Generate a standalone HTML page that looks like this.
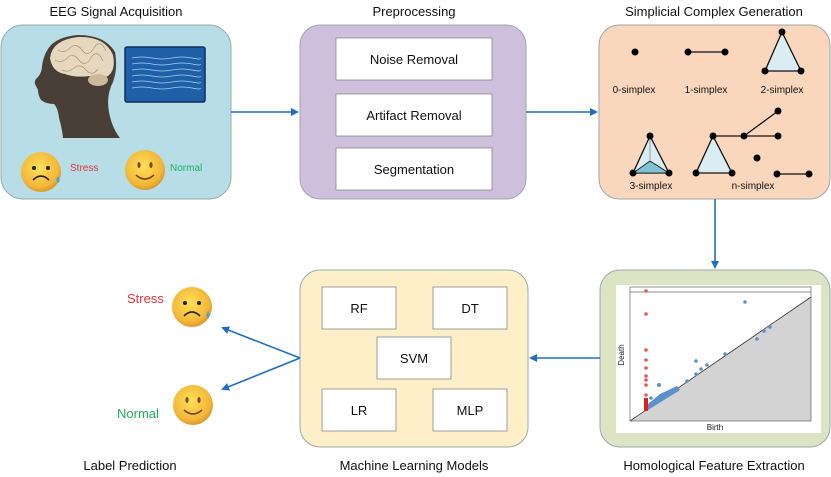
<!DOCTYPE html>
<html><head><meta charset="utf-8"><style>
html,body{margin:0;padding:0;background:#fff;}
svg{display:block;}
text{font-family:"Liberation Sans",sans-serif;}
</style></head><body>
<svg width="831" height="477" viewBox="0 0 831 477" xmlns="http://www.w3.org/2000/svg">
<defs>
<marker id="ah" markerWidth="8" markerHeight="8" refX="6" refY="4" orient="auto" markerUnits="userSpaceOnUse">
<path d="M0,0 L8,4 L0,8 z" fill="#1f6fbf"/></marker>
<radialGradient id="emo" cx="45%" cy="40%" r="60%"><stop offset="0" stop-color="#fde05a"/><stop offset="0.8" stop-color="#f3b638"/><stop offset="1" stop-color="#d99a2a"/></radialGradient>
</defs>
<g font-size="13" fill="#111" text-anchor="middle">
<text x="116" y="16">EEG Signal Acquisition</text>
<text x="414" y="16">Preprocessing</text>
<text x="714" y="16">Simplicial Complex Generation</text>
<text x="130" y="470">Label Prediction</text>
<text x="414" y="470">Machine Learning Models</text>
<text x="714" y="470">Homological Feature Extraction</text>
</g>
<!-- Box 1 -->
<rect x="1" y="25" width="230" height="174" rx="22" fill="#b7dde7" stroke="#9aa" stroke-width="1"/>
<path d="M78,35 Q105,35 115,52 Q118,68 113,82 Q106,95 109,112 Q112,128 120,138 L63,138 Q62,128 59,118 Q58,108 54,104 Q46,104 41,100 Q38,95 38,90 L35,84 Q34,80 38,77 Q42,72 42,66 Q44,52 52,44 Q62,36 78,35 z" fill="#4a3f36"/>
<path d="M50,58 Q52,40 78,37 Q105,36 113,55 Q116,70 108,76 Q100,80 90,76 Q75,78 65,74 Q52,72 50,58 z" fill="#e6d8bf"/>
<ellipse cx="98" cy="80" rx="10" ry="6" fill="#cbb99a"/>
<g stroke="#a89478" stroke-width="0.7" fill="none">
<path d="M58,50 q6,4 12,-2 t12,2 t12,-2 t12,3"/><path d="M55,60 q6,4 12,-2 t12,2 t12,-2 t12,3"/><path d="M62,70 q6,3 12,-2 t12,2 t12,-1"/>
</g>
<rect x="125" y="47" width="80" height="55" rx="2" fill="#1f5fa8" stroke="#0d2e5a" stroke-width="1.5"/>
<g stroke="#a7d0f0" stroke-width="0.8" fill="none">
<path d="M132,58 q10,-2 20,0 t20,0 t20,0 t8,0"/><path d="M132,64 q10,-2 20,0 t20,0 t20,0 t8,0"/>
<path d="M132,70 q10,-2 20,0 t20,0 t20,0 t8,0"/><path d="M132,76 q10,-2 20,0 t20,0 t20,0 t8,0"/>
<path d="M132,82 q10,-2 20,0 t20,0 t20,0 t8,0"/><path d="M132,88 q10,-2 20,0 t20,0 t20,0 t8,0"/>
</g>
<circle cx="41" cy="172" r="20" fill="url(#emo)"/>
<circle cx="34" cy="168" r="2" fill="#222"/><circle cx="48" cy="168" r="2" fill="#222"/>
<path d="M33,180 Q41,172 49,180" stroke="#222" stroke-width="1.6" fill="none"/>
<path d="M58,176 q-3,5 0,7 q3,-2 0,-7z" fill="#3aa7e0"/>
<text x="70" y="171" font-size="10" fill="#e8323c">Stress</text>
<circle cx="145" cy="170" r="20" fill="url(#emo)"/>
<ellipse cx="139" cy="165" rx="1.6" ry="3" fill="#7a4a1c"/><ellipse cx="151" cy="165" rx="1.6" ry="3" fill="#7a4a1c"/>
<path d="M136,175 Q145,183 154,175" stroke="#7a4a1c" stroke-width="1.6" fill="none"/>
<text x="170" y="171" font-size="10" fill="#1fb25a">Normal</text>
<!-- Box 2 -->
<rect x="300" y="25" width="226" height="174" rx="20" fill="#cec0dd" stroke="#9aa" stroke-width="1"/>
<g fill="#fff" stroke="#888" stroke-width="0.8">
<rect x="336" y="38" width="156" height="42"/><rect x="336" y="94" width="156" height="42"/><rect x="336" y="148" width="156" height="42"/>
</g>
<g font-size="13" fill="#111" text-anchor="middle">
<text x="414" y="64">Noise Removal</text><text x="414" y="120">Artifact Removal</text><text x="414" y="174">Segmentation</text>
</g>
<!-- Box 3 -->
<rect x="599" y="25" width="231" height="174" rx="20" fill="#f9d6bc" stroke="#9aa" stroke-width="1"/>
<g fill="#daedf3" stroke="#111" stroke-width="1.3">
<path d="M782,32 L765,71 L801,71 z"/>
<path d="M650,136 L633,173 L669,173 z"/>
<path d="M713,136 L696,173 L732,173 z"/>
</g>
<path d="M633,173 L650,161 L669,173 z" fill="#7fc3d4" stroke="#111" stroke-width="0.8"/>
<line x1="650" y1="136" x2="650" y2="161" stroke="#999"/>
<g stroke="#111" stroke-width="1.3">
<line x1="688" y1="52" x2="725" y2="52"/><line x1="713" y1="136" x2="744" y2="136"/>
<line x1="744" y1="136" x2="778" y2="111"/><line x1="744" y1="136" x2="778" y2="136"/>
<line x1="777" y1="174" x2="809" y2="174"/>
</g>
<g fill="#000">
<circle cx="635" cy="52" r="3.5"/><circle cx="688" cy="52" r="3.5"/><circle cx="725" cy="52" r="3.5"/>
<circle cx="782" cy="32" r="3.5"/><circle cx="765" cy="71" r="3.5"/><circle cx="801" cy="71" r="3.5"/>
<circle cx="650" cy="136" r="3.5"/><circle cx="633" cy="173" r="3.5"/><circle cx="669" cy="173" r="3.5"/>
<circle cx="713" cy="136" r="3.5"/><circle cx="696" cy="173" r="3.5"/><circle cx="732" cy="173" r="3.5"/>
<circle cx="744" cy="136" r="3.5"/><circle cx="778" cy="111" r="3.5"/><circle cx="778" cy="136" r="3.5"/>
<circle cx="757" cy="158" r="3.5"/><circle cx="777" cy="174" r="3.5"/><circle cx="809" cy="174" r="3.5"/>
</g>
<g font-size="10" fill="#111" text-anchor="middle">
<text x="634" y="93">0-simplex</text><text x="706" y="93">1-simplex</text><text x="782" y="93">2-simplex</text>
<text x="651" y="189">3-simplex</text><text x="753" y="189">n-simplex</text>
</g>
<!-- Box 4 -->
<rect x="600" y="270" width="230" height="177" rx="20" fill="#dce4c3" stroke="#9aa" stroke-width="1"/>
<rect x="616" y="285" width="205" height="148" fill="#fff"/>
<path d="M630,421 L811,297 L811,421 z" fill="#d3d3d3"/>
<line x1="630" y1="421" x2="811" y2="297" stroke="#333" stroke-width="0.8"/>
<rect x="630" y="287" width="181" height="134" fill="none" stroke="#666" stroke-width="0.7"/>
<line x1="630" y1="292" x2="811" y2="292" stroke="#666" stroke-width="0.7"/>
<text x="715" y="430" font-size="8" fill="#222" text-anchor="middle">Birth</text>
<text x="624" y="355" font-size="8" fill="#222" text-anchor="middle" transform="rotate(-90 624 355)">Death</text>
<g fill="#e05a5a">
<circle cx="646" cy="291" r="1.8"/><circle cx="646" cy="314" r="1.8"/><circle cx="646" cy="350" r="1.8"/>
<circle cx="646" cy="360" r="1.8"/><circle cx="646" cy="368" r="1.8"/><circle cx="646" cy="376" r="1.8"/>
<circle cx="646" cy="380" r="1.8"/><circle cx="646" cy="385" r="1.8"/><circle cx="646" cy="395" r="1.8"/>
<rect x="644" y="398" width="4" height="13" fill="#e02020"/>
</g>
<g fill="#5b93c9">
<circle cx="745" cy="302" r="1.8"/><circle cx="770" cy="327" r="1.8"/><circle cx="764" cy="331" r="1.8"/>
<circle cx="757" cy="339" r="1.8"/><circle cx="725" cy="354" r="1.8"/><circle cx="696" cy="361" r="1.8"/>
<circle cx="707" cy="365" r="1.8"/><circle cx="701" cy="369" r="1.8"/><circle cx="696" cy="374" r="1.8"/>
<circle cx="687" cy="381" r="1.8"/><circle cx="659" cy="385" r="2"/><circle cx="651" cy="398" r="1.8"/>
<path d="M648,410 L680,390 L677,386 L660,394 L648,404 z"/>
</g>
<!-- Box 5 -->
<rect x="300" y="270" width="228" height="177" rx="20" fill="#fdf0c9" stroke="#9aa" stroke-width="1"/>
<g fill="#fff" stroke="#888" stroke-width="0.8">
<rect x="322" y="287" width="74" height="42"/><rect x="433" y="287" width="74" height="42"/>
<rect x="377" y="337" width="74" height="42"/>
<rect x="322" y="389" width="74" height="42"/><rect x="433" y="389" width="74" height="42"/>
</g>
<g font-size="13" fill="#111" text-anchor="middle">
<text x="359" y="313">RF</text><text x="470" y="313">DT</text><text x="414" y="363">SVM</text>
<text x="359" y="415">LR</text><text x="470" y="415">MLP</text>
</g>
<text x="127" y="303" font-size="13" fill="#e8323c">Stress</text>
<circle cx="192" cy="307" r="20" fill="url(#emo)"/>
<circle cx="185" cy="303" r="2" fill="#222"/><circle cx="199" cy="303" r="2" fill="#222"/>
<path d="M184,316 Q192,308 200,316" stroke="#222" stroke-width="1.6" fill="none"/>
<path d="M208,311 q-3,5 0,7 q3,-2 0,-7z" fill="#3aa7e0"/>
<text x="117" y="418" font-size="13" fill="#1fb25a">Normal</text>
<circle cx="193" cy="405" r="20" fill="url(#emo)"/>
<ellipse cx="187" cy="400" rx="1.6" ry="3" fill="#7a4a1c"/><ellipse cx="199" cy="400" rx="1.6" ry="3" fill="#7a4a1c"/>
<path d="M184,410 Q193,418 202,410" stroke="#7a4a1c" stroke-width="1.6" fill="none"/>
<g stroke="#1f6fbf" stroke-width="1.6" fill="none" marker-end="url(#ah)">
<line x1="231" y1="112" x2="297" y2="112"/>
<line x1="526" y1="112" x2="596" y2="112"/>
<line x1="715" y1="199" x2="715" y2="267"/>
<line x1="600" y1="358" x2="531" y2="358"/>
<line x1="300" y1="358" x2="223" y2="328"/>
<line x1="300" y1="358" x2="223" y2="389"/>
</g>
</svg>
</body></html>
